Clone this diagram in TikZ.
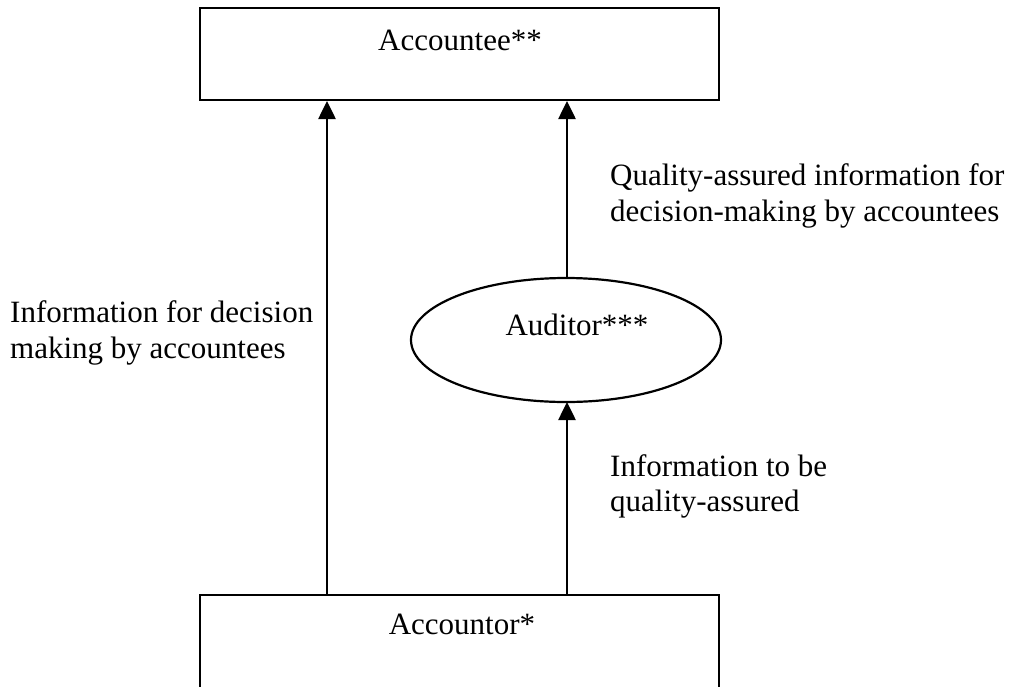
\documentclass[tikz,border=0pt]{standalone}
\usepackage{fontspec}
\setmainfont{Liberation Serif}
\usetikzlibrary{arrows.meta,shapes.geometric}
\begin{document}
\begin{tikzpicture}[x=1pt,y=-1pt,
  conn/.style={line width=2.6pt,-{Triangle[length=18pt,width=17pt]}},
  lbl/.style={inner sep=0pt,font=\fontsize{31}{36}\selectfont},
  ]
\useasboundingbox (0,0) rectangle (1018,686);
% boxes
\draw[line width=2.4pt] (200,8) rectangle (719,100);
\node[lbl,anchor=base] (accountee) at (460,50) {Accountee**};
\draw[line width=2.4pt] (200,700) -- (200,595) -- (719,595) -- (719,700);
\node[lbl,anchor=base] (accountor) at (462,634) {Accountor*};
\node[draw,line width=2.2pt,ellipse,minimum width=310pt,minimum height=124pt,inner sep=0pt] (auditor) at (566,340) {};
\node[lbl,anchor=base] (auditorlbl) at (577,335) {Auditor***};
% connectors
\coordinate (l0) at (327,595);
\coordinate (l1) at (327,101);
\coordinate (r0) at (567,595);
\coordinate (r1) at (567,402);
\coordinate (r2) at (567,278);
\coordinate (r3) at (567,101);
\draw[conn] (l0) -- (l1);
\draw[conn] (r0) -- (r1);
\draw[conn] (r2) -- (r3);
% labels
\node[lbl,anchor=base west] (t1a) at (10,322) {Information for decision};
\node[lbl,anchor=base west] (t1b) at (10,358) {making by accountees};
\node[lbl,anchor=base west] (t2a) at (610,185) {Quality-assured information for};
\node[lbl,anchor=base west] (t2b) at (610,221) {decision-making by accountees};
\node[lbl,anchor=base west] (t3a) at (610,476) {Information to be};
\node[lbl,anchor=base west] (t3b) at (610,511) {quality-assured};
\end{tikzpicture}
\end{document}
